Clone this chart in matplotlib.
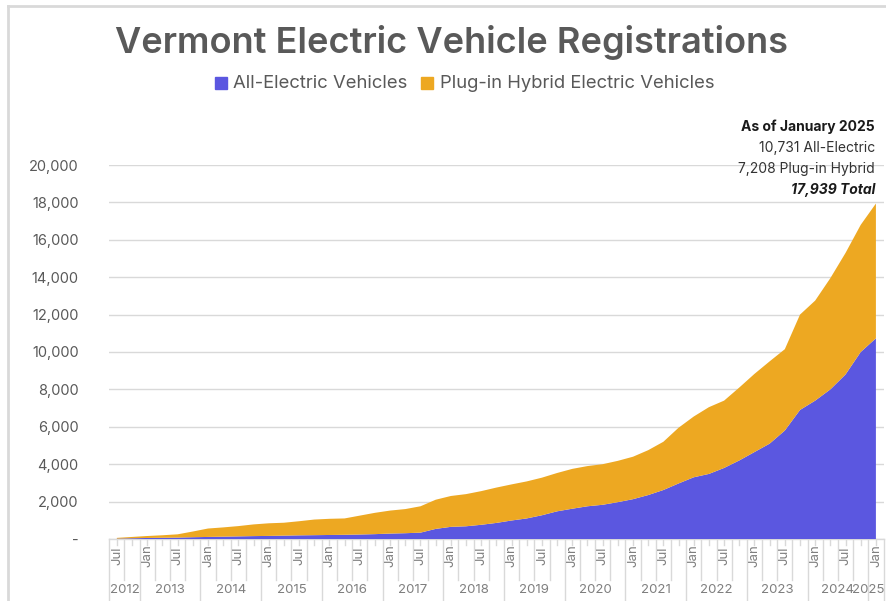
import matplotlib
matplotlib.use("Agg")
import matplotlib.pyplot as plt
from matplotlib.patches import Rectangle
from matplotlib.lines import Line2D
import matplotlib.transforms as mtransforms

# ---------------- data (quarterly, Jul 2012 .. Jan 2025) ----------------
quarters = ["Jul", "Oct", "Jan", "Apr"] * 12 + ["Jul", "Oct", "Jan"]
all_electric = [20, 40, 55, 65, 75, 95, 110, 125, 140, 155, 165, 180, 195, 205,
                215, 225, 240, 260, 290, 310, 340, 540, 650, 680, 760, 860, 990,
                1100, 1270, 1480, 1620, 1750, 1830, 1970, 2130, 2350, 2620, 2970,
                3300, 3480, 3800, 4200, 4650, 5100, 5800, 6900, 7400, 8000, 8800,
                10000, 10731]
plug_in_hybrid = [40, 70, 105, 135, 175, 305, 450, 495, 550, 625, 675, 690, 755,
                  835, 865, 875, 1010, 1140, 1230, 1290, 1410, 1560, 1650, 1720,
                  1800, 1890, 1930, 1980, 2010, 2050, 2130, 2150, 2170, 2210, 2270,
                  2400, 2580, 2980, 3250, 3570, 3600, 3900, 4180, 4400, 4350, 5100,
                  5350, 5950, 6500, 6800, 7208]
year_labels = ["2012", "2013", "2014", "2015", "2016", "2017", "2018", "2019",
               "2020", "2021", "2022", "2023", "2024", "2025"]
y_ticks = [0, 2000, 4000, 6000, 8000, 10000, 12000, 14000, 16000, 18000, 20000]
series_names = ["All-Electric Vehicles", "Plug-in Hybrid Electric Vehicles"]
note_lines = ["As of January 2025", "10,731 All-Electric", "7,208 Plug-in Hybrid",
              "17,939 Total"]

BLUE = "#5B57E0"
ORANGE = "#EDA822"
GREY = "#595959"
LIGHT = "#d9d9d9"
FONT = "Inter"

W, H = 886, 601
fig = plt.figure(figsize=(W / 100, H / 100), dpi=100)
plt.rcParams["font.family"] = [FONT, "DejaVu Sans"]

def fx(px):
    return px / W

def fy(py):
    return 1 - py / H

# plot area in pixels
L, R, T, B = 109.3, 883.5, 165, 539
ax = fig.add_axes([fx(L), fy(B), fx(R) - fx(L), fy(T) - fy(B)])

n = len(all_electric)
x = list(range(n))
ax.stackplot(x, all_electric, plug_in_hybrid, colors=[BLUE, ORANGE],
             linewidth=0, zorder=3)
ax.set_xlim(-0.5, n - 0.5)
ax.set_ylim(0, 20000)
ax.set_yticks(y_ticks)
ax.set_yticklabels(["-" if v == 0 else f"{v:,}" for v in y_ticks],
                   fontsize=10.5, color=GREY)
ax.tick_params(axis="y", length=0, pad=22)
ax.yaxis.grid(True, color=LIGHT, linewidth=1.0, zorder=0)
ax.set_xticks([])
for s in ["top", "right", "left"]:
    ax.spines[s].set_visible(False)
ax.spines["bottom"].set_color(LIGHT)
ax.spines["bottom"].set_linewidth(1.0)
ax.set_axisbelow(True)

# custom category axis
ah = B - T
trans = mtransforms.blended_transform_factory(ax.transData, ax.transAxes)
def ay(px_below):
    return -px_below / ah

for i in range(n):
    ax.add_line(Line2D([i, i], [0, ay(6)], color=LIGHT, lw=1, transform=trans,
                       clip_on=False))
for i in range(n + 1):
    b = i - 0.5
    if i == 0 or i == n or quarters[i] == "Jan":
        y1 = ay(62)
    else:
        y1 = ay(41)
    ax.add_line(Line2D([b, b], [0, y1], color=LIGHT, lw=1, transform=trans,
                       clip_on=False))
for i in range(n):
    if quarters[i] in ("Jul", "Jan"):
        ax.text(i, ay(17), quarters[i], rotation=90, ha="center", va="center",
                fontsize=9.5, color="#7f7f7f", transform=trans)

# year group labels
starts = [0] + [i for i in range(n) if quarters[i] == "Jan"]
ends = starts[1:] + [n]
for k, (yl, s, e) in enumerate(zip(year_labels, starts, ends)):
    if k == len(year_labels) - 1:
        ax.text(e - 0.45, ay(51), yl, ha="right", va="center",
                fontsize=9.5, color="#7f7f7f", transform=trans)
    else:
        ax.text((s + e - 1) / 2, ay(51), yl, ha="center", va="center",
                fontsize=9.5, color="#7f7f7f", transform=trans)

# title
fig.text(fx(452), fy(42), "Vermont Electric Vehicle Registrations",
         ha="center", va="center", fontsize=26, fontweight="semibold",
         color=GREY)

# legend
sq = 12
for px, col in [(215, BLUE), (421, ORANGE)]:
    fig.patches.append(Rectangle((fx(px), fy(89)), fx(sq), sq / H,
                                 transform=fig.transFigure, color=col))
fig.text(fx(233), fy(83), series_names[0], ha="left", va="center",
         fontsize=13.3, color=GREY)
fig.text(fx(440), fy(83), series_names[1], ha="left", va="center",
         fontsize=13.3, color=GREY)

# note
fig.text(fx(875), fy(127), note_lines[0], ha="right", va="center",
         fontsize=10, fontweight="bold", color="#1a1a1a")
fig.text(fx(875), fy(148), note_lines[1], ha="right", va="center",
         fontsize=10, color="#333333")
fig.text(fx(875), fy(169), note_lines[2], ha="right", va="center",
         fontsize=10, color="#333333")
fig.text(fx(875), fy(190), note_lines[3], ha="right", va="center",
         fontsize=10, fontweight="bold", fontstyle="italic", color="#1a1a1a")

# frame
fig.add_artist(Line2D([fx(8), fx(8)], [fy(6), 0], color=LIGHT, lw=2,
                      transform=fig.transFigure))
fig.add_artist(Line2D([fx(8), 1], [fy(6), fy(6)], color=LIGHT, lw=2,
                      transform=fig.transFigure))

fig.savefig("out.png", dpi=100)
